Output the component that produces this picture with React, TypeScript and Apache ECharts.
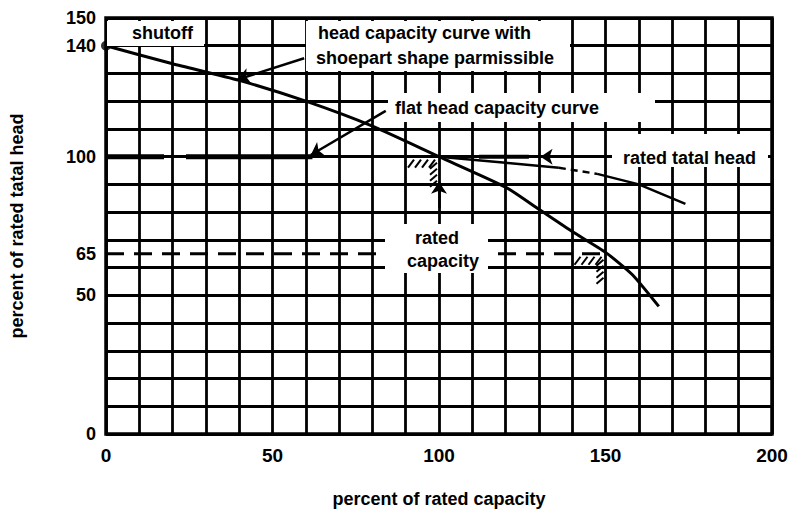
import React, { useEffect, useRef } from "react";
import * as echarts from "echarts";

// ---- data (percent of rated capacity, percent of rated total head) ----
const capacityTickLabels = [0, 50, 100, 150, 200];
const headTickLabels = [0, 50, 65, 100, 140, 150];

const headCapacityCurve = [
  [0, 140], [20, 133.5], [40, 127.5], [60, 120], [80, 111], [100, 100],
  [120, 89], [130, 81], [140, 73], [150, 65.5], [158, 57.5], [166, 46],
];
const flatCurveSolidA = [[100, 100], [120, 97.8], [136, 96]];
const flatCurveDashed = [[136, 96], [147.5, 93.8]];
const flatCurveSolidB = [[147.5, 93.8], [160, 90], [174, 83]];
const ratedHeadLine = [[0, 100], [62, 100]];
const ratedHeadStub = [[112, 100], [127, 100]];
const line65 = [[0, 65], [150, 65]];
const shutoffPoint = [[0, 140]];
const hatchCorners = [[100, 100], [150, 65]];

const arrowShoepart = [[59.5, 135.5], [39.5, 127.8]];
const arrowFlat = [[84, 116.5], [61.5, 100.6]];
const arrowCapacity = [[100, 81.5], [100, 91]];
const arrowRatedHead = [[141, 100], [130.5, 100]];

export default function App() {
  const ref = useRef<HTMLDivElement>(null);

  useEffect(() => {
    const chart = echarts.init(ref.current!, null, { renderer: "svg" });
    const black = "#000";
    const font = "'Liberation Sans', Arial, sans-serif";
    const f18 = `bold 18px ${font}`;

    const lineSeries = (data: number[][], width: number, type: any = "solid") => ({
      type: "line",
      data,
      showSymbol: false,
      symbol: "none",
      silent: true,
      z: 5,
      lineStyle: { color: black, width, type, cap: "butt" },
    });

    const arrow = (coords: number[][]) => ({
      type: "lines",
      coordinateSystem: "cartesian2d",
      silent: true,
      z: 6,
      symbol: ["none", "arrow"],
      symbolSize: 12,
      lineStyle: { color: black, width: 2.5, opacity: 1 },
      itemStyle: { color: black },
      data: [{ coords }],
    });

    const box = (x: number, y: number, w: number, h: number) => ({
      type: "rect",
      shape: { x, y, width: w, height: h },
      style: { fill: "#fff" },
      z: 50,
    });
    const label = (text: string, x: number, y: number, align = "left") => ({
      type: "text",
      x,
      y,
      z: 51,
      style: { text, font: f18, fill: black, align, verticalAlign: "middle" },
    });

    chart.setOption({
      animation: false,
      backgroundColor: "#fff",
      grid: {
        left: 105,
        right: 22,
        top: 18,
        bottom: 68,
        show: true,
        borderColor: black,
        borderWidth: 3.5,
      },
      xAxis: {
        type: "value",
        min: 0,
        max: 200,
        interval: 10,
        name: "percent of rated capacity",
        nameLocation: "middle",
        nameGap: 56,
        nameTextStyle: { color: black, fontFamily: font, fontWeight: "bold", fontSize: 18 },
        axisLine: { show: false },
        axisTick: { show: false },
        splitLine: { show: true, lineStyle: { color: black, width: 2.8 } },
        axisLabel: {
          color: black,
          fontFamily: font,
          fontWeight: "bold",
          fontSize: 19,
          margin: 12,
          formatter: (v: number) => (capacityTickLabels.includes(v) ? String(v) : ""),
        },
      },
      yAxis: [
        {
          type: "value",
          min: 0,
          max: 150,
          interval: 10,
          name: "percent of rated tatal head",
          nameLocation: "middle",
          nameRotate: 90,
          nameGap: 80,
          nameTextStyle: { color: black, fontFamily: font, fontWeight: "bold", fontSize: 18 },
          axisLine: { show: false },
          axisTick: { show: false },
          axisLabel: { show: false },
          splitLine: { show: true, lineStyle: { color: black, width: 2.8 } },
        },
        {
          type: "value",
          min: 0,
          max: 150,
          interval: 5,
          position: "left",
          axisLine: { show: false },
          axisTick: { show: false },
          splitLine: { show: false },
          axisLabel: {
            color: black,
            fontFamily: font,
            fontWeight: "bold",
            fontSize: 18,
            margin: 10,
            formatter: (v: number) => (headTickLabels.includes(v) ? String(v) : ""),
          },
        },
      ],
      series: [
        { ...lineSeries(headCapacityCurve, 3), smooth: 0.2 },
        lineSeries(flatCurveSolidA, 2.5),
        lineSeries(flatCurveDashed, 2.5, [7, 5]),
        lineSeries(flatCurveSolidB, 2.5),
        lineSeries(ratedHeadLine, 5, [58, 22, 130, 10]),
        lineSeries(ratedHeadStub, 4),
        lineSeries(line65, 3, [18, 10]),
        {
          type: "scatter",
          data: shutoffPoint,
          symbolSize: 10,
          itemStyle: { color: black },
          silent: true,
          z: 7,
        },
        arrow(arrowShoepart),
        arrow(arrowFlat),
        arrow(arrowCapacity),
        arrow(arrowRatedHead),
        {
          type: "custom",
          coordinateSystem: "cartesian2d",
          data: hatchCorners,
          silent: true,
          z: 6,
          renderItem: (_params: any, api: any) => {
            const p = api.coord([api.value(0), api.value(1)]);
            const st = { stroke: black, lineWidth: 2 };
            const children: any[] = [];
            for (const dx of [-31, -24, -17, -10]) {
              children.push({
                type: "line",
                shape: { x1: p[0] + dx, y1: p[1] + 11, x2: p[0] + dx + 6, y2: p[1] + 3 },
                style: st,
              });
            }
            for (const dy of [8, 14, 20, 26]) {
              children.push({
                type: "line",
                shape: { x1: p[0] - 9, y1: p[1] + dy + 4, x2: p[0] - 2, y2: p[1] + dy - 2 },
                style: st,
              });
            }
            return { type: "group", children };
          },
        },
      ],
      graphic: [
        box(107, 21, 97, 25),
        label("shutoff", 132, 33),
        box(306, 21, 264, 50),
        label("head capacity curve with", 318, 33),
        label("shoepart shape parmissible", 316, 58),
        box(388, 93, 267, 29),
        label("flat head capacity curve", 395, 108),
        box(612, 134, 156, 33),
        label("rated tatal head", 623, 158),
        box(385, 224, 103, 49),
        label("rated", 437, 238, "center"),
        label("capacity", 443, 261, "center"),
      ],
    });

    return () => chart.dispose();
  }, []);

  return (
    <div
      ref={ref}
      style={{ position: "fixed", left: 0, top: 0, width: 794, height: 513, background: "#fff" }}
    />
  );
}
